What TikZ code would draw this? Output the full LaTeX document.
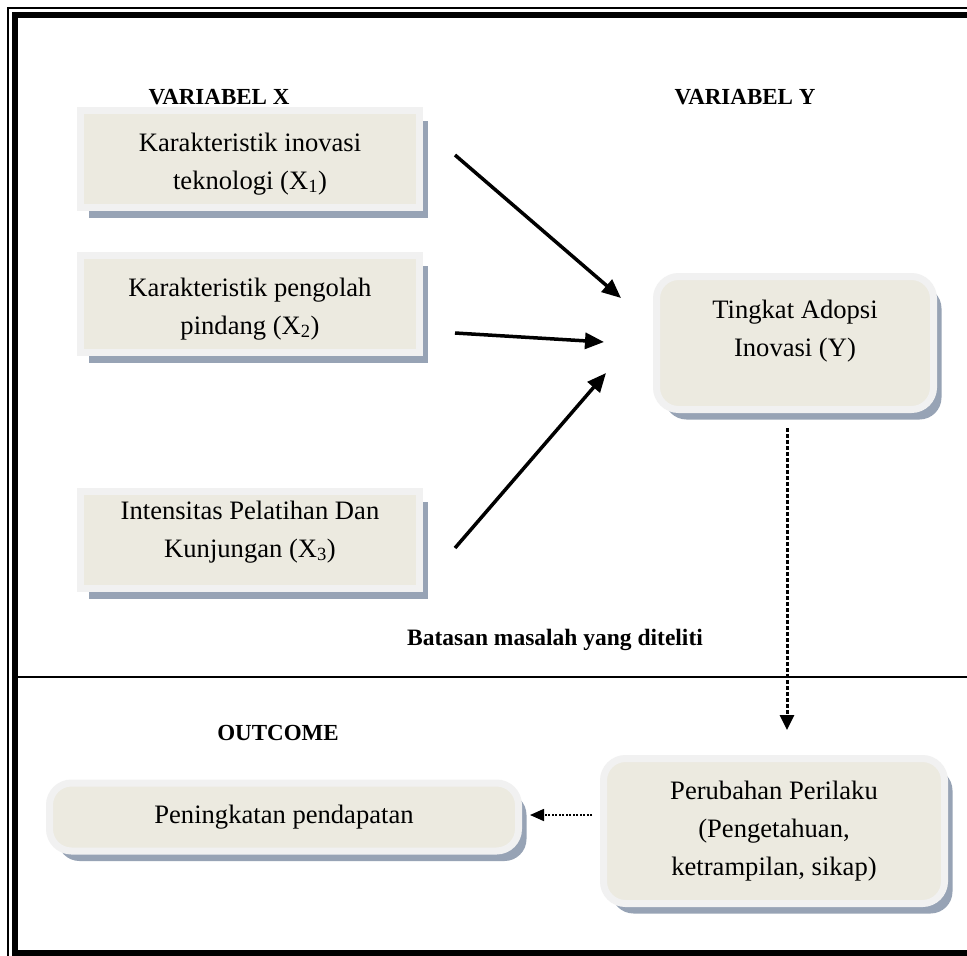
\documentclass[tikz,border=0pt]{standalone}
\usepackage{fontspec}
\setmainfont{Liberation Serif}
\usetikzlibrary{arrows.meta,shadows}
\definecolor{boxfill}{HTML}{ECEAE0}
\definecolor{boxrim}{HTML}{F1F1F1}
\definecolor{boxshade}{HTML}{97A3B5}
\begin{document}
\begin{tikzpicture}[x=1pt,y=-1pt,
  varbox/.style = {draw=boxrim, line width=7pt, fill=boxfill, align=center, inner sep=0pt,
    font=\fontsize{26.6}{38}\selectfont,
    drop shadow={shadow xshift=8pt, shadow yshift=-10pt, fill=boxshade, opacity=1}},
  roundbox/.style = {varbox, rounded corners=22pt},
  head/.style = {font=\fontsize{23}{28}\selectfont\bfseries},
  arr/.style = {line width=3.5pt, -{Triangle[length=19pt,width=16pt]}},
  dotarr/.style = {line width=3pt, dash pattern=on 4pt off 2pt, -{Triangle[length=15pt,width=14pt]}},
  smalldot/.style = {line width=1.6pt, dash pattern=on 2pt off 1.5pt, -{Triangle[length=14pt,width=12pt]}}]
\useasboundingbox (0,0) rectangle (967,956);
\clip (0,0) rectangle (967,956);
\fill[white] (0,0) rectangle (967,956);
\draw[line width=1.5pt] (8,8) rectangle (1010,962);
\draw[line width=6pt] (15,15) rectangle (1000,953);
\draw[line width=2.3pt] (15,677) -- (1000,677);

\node[head] (vx) at (219,97) {VARIABEL X};
\node[head] (vy) at (745,97) {VARIABEL Y};
\node[head, font=\fontsize{23.5}{28}\selectfont\bfseries] (bts) at (555,640) {Batasan masalah yang diteliti};
\node[head] (out) at (278,733) {OUTCOME};

\node[varbox, minimum width=339pt, minimum height=97pt, text height=66pt] (x1) at (250,159) {Karakteristik inovasi\\teknologi (X\textsubscript{1})};
\node[varbox, minimum width=339pt, minimum height=97pt, text height=66pt] (x2) at (250,304) {Karakteristik pengolah\\pindang (X\textsubscript{2})};
\node[varbox, minimum width=339pt, minimum height=97pt, text depth=22pt] (x3) at (250,540) {Intensitas Pelatihan Dan\\Kunjungan (X\textsubscript{3})};
\node[roundbox, minimum width=277pt, minimum height=133pt, text depth=30pt] (y) at (795,343) {Tingkat Adopsi\\Inovasi (Y)};
\node[roundbox, minimum width=469pt, minimum height=68pt] (pen) at (284,817) {Peningkatan pendapatan};
\node[roundbox, minimum width=341pt, minimum height=145pt] (per) at (774,831) {Perubahan Perilaku\\(Pengetahuan,\\ketrampilan, sikap)};

\coordinate (a1) at (455,155);
\coordinate (b1) at (621,298);
\coordinate (a2) at (455,333);
\coordinate (b2) at (604,342);
\coordinate (a3) at (455,548);
\coordinate (b3) at (606,373);
\coordinate (c1) at (787,428);
\coordinate (c2) at (787,730);
\coordinate (d1) at (592,815);
\coordinate (d2) at (530,815);
\draw[arr] (a1) -- (b1);
\draw[arr] (a2) -- (b2);
\draw[arr] (a3) -- (b3);
\draw[dotarr] (c1) -- (c2);
\draw[smalldot] (d1) -- (d2);
\end{tikzpicture}
\end{document}
